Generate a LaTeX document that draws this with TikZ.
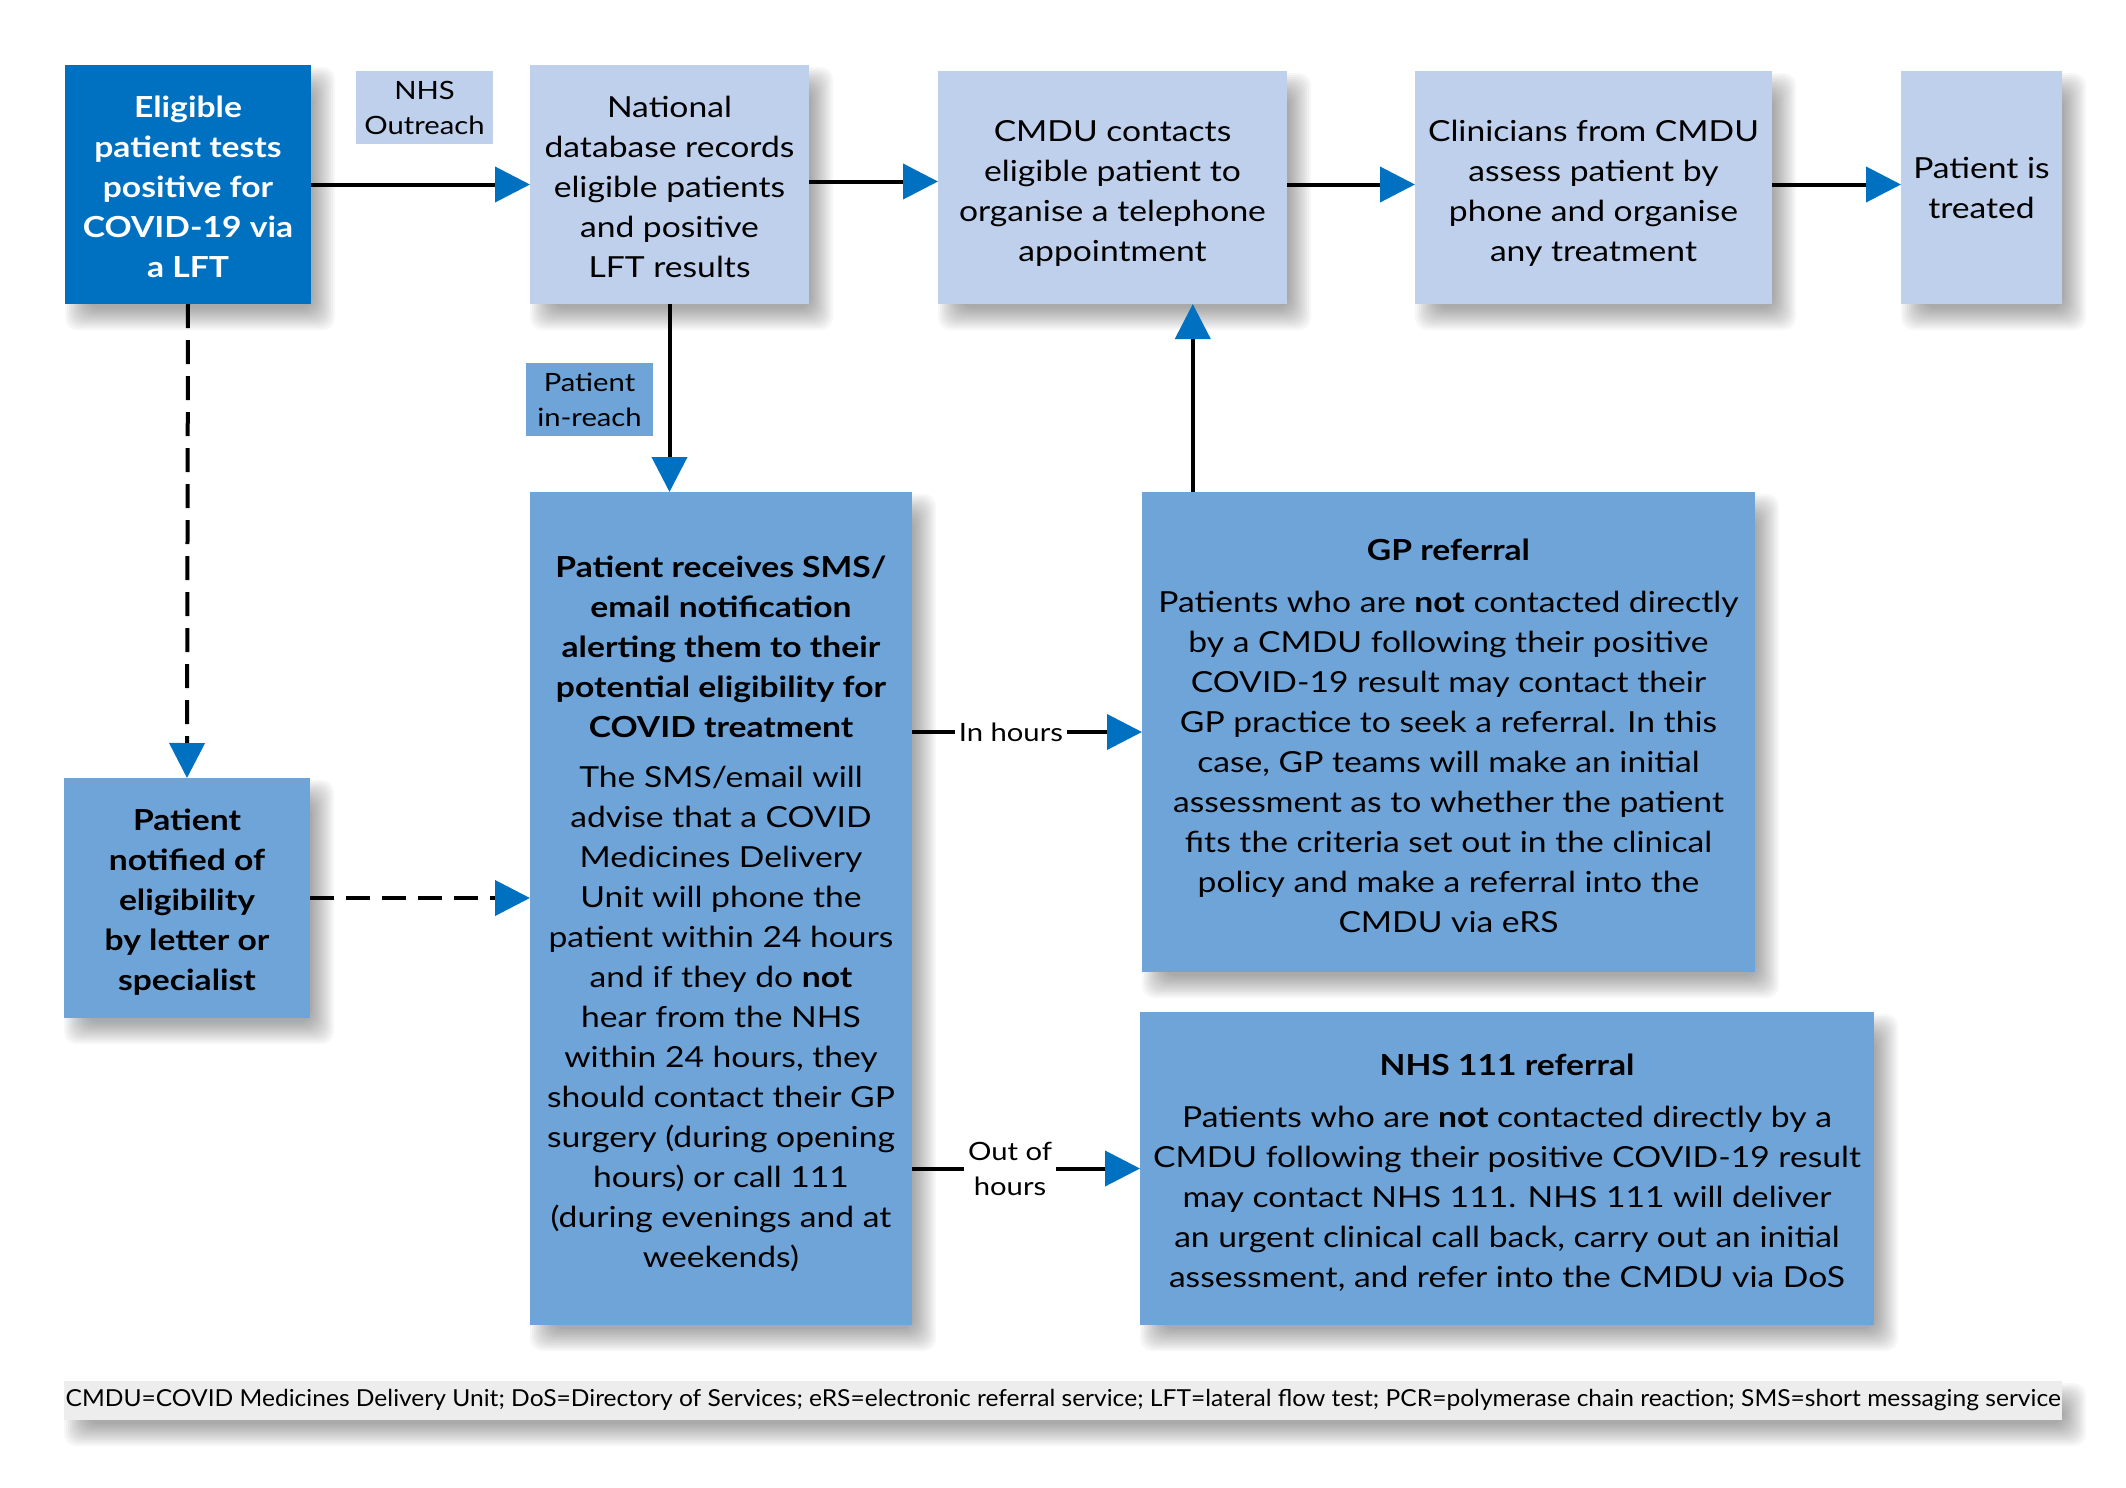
\documentclass[tikz,border=0pt]{standalone}
\usepackage{fontspec}
\setmainfont{Lato}[FakeStretch=1.16]
\newfontfamily\footfont{Lato}[FakeStretch=1.05]
\usetikzlibrary{arrows.meta,calc,backgrounds}
\definecolor{dkblue}{RGB}{0,112,192}
\definecolor{ltblue}{RGB}{190,208,236}
\definecolor{mdblue}{RGB}{111,164,216}
\definecolor{ftgrey}{RGB}{237,237,237}
\newcommand{\softshadow}[1]{%
  \foreach \e in {-10,-8,...,12} {%
    \fill[black, opacity=0.03, rounded corners=6pt]
      ($(#1.north west)+({12-(\e)},{14-(\e)})$) rectangle ($(#1.south east)+({12+(\e)},{14+(\e)})$);
  }}
\begin{document}
\begin{tikzpicture}[x=0.5pt,y=-0.5pt,
  base/.style={inner sep=0pt, outer sep=0pt, align=center},
  box/.style={base, font=\fontsize{14.5}{20}\selectfont},
  darkbox/.style={box, fill=dkblue, text=white, font=\fontsize{14.5}{20}\selectfont\bfseries},
  lightbox/.style={box, fill=ltblue},
  midbox/.style={box, fill=mdblue},
  tag/.style={base, font=\fontsize{12.6}{17.5}\selectfont},
  lab/.style={base, fill=white, inner xsep=2pt, font=\fontsize{12.6}{17.5}\selectfont},
  arr/.style={draw=black, line width=2pt, -{Triangle[length=17.5pt,width=17.5pt,color=dkblue]}},
  dasharr/.style={arr, dash pattern=on 12pt off 6pt}
]
\useasboundingbox (0,0) rectangle (2126,1488);

% top row
\node[darkbox, minimum width=123pt, minimum height=119.5pt] (b1) at (188,184.5)
  {\rule{0pt}{13.5pt}Eligible\\patient tests\\positive for\\COVID-19 via\\a LFT};
\node[tag, fill=ltblue, minimum width=68.5pt, minimum height=36.5pt] (outreach) at (424.5,107.5)
  {NHS\\Outreach};
\node[lightbox, minimum width=139.5pt, minimum height=119.5pt] (b2) at (669.5,184.5)
  {\rule{0pt}{13.5pt}National\\database records\\eligible patients\\and positive\\LFT results};
\node[lightbox, minimum width=174.5pt, minimum height=116.5pt] (b3) at (1112.5,187.5)
  {\rule{0pt}{16pt}CMDU contacts\\eligible patient to\\organise a telephone\\appointment};
\node[lightbox, minimum width=178.5pt, minimum height=116.5pt] (b4) at (1593.5,187.5)
  {\rule{0pt}{16pt}Clinicians from CMDU\\assess patient by\\phone and organise\\any treatment};
\node[lightbox, minimum width=80.5pt, minimum height=116.5pt] (b5) at (1981.5,187.5)
  {Patient is\\treated};

% middle
\node[tag, fill=mdblue, minimum width=63.5pt, minimum height=36.5pt] (inreach) at (589.5,399.5)
  {Patient\\in-reach};
\node[midbox, font=\fontsize{14.5}{20}\selectfont\bfseries, minimum width=123pt, minimum height=120pt] (b6) at (187,898)
  {\rule{0pt}{15pt}Patient\\notified of\\eligibility\\by letter or\\specialist};
\node[midbox, minimum width=191pt, minimum height=416.5pt] (sms) at (721,908.5)
  {\rule{0pt}{16pt}\textbf{Patient receives SMS/}\\\textbf{email notification}\\\textbf{alerting them to their}\\\textbf{potential eligibility for}\\\textbf{COVID treatment}\\[5pt]
   The SMS/email will\\advise that a COVID\\Medicines Delivery\\Unit will phone the\\patient within 24 hours\\and if they do \textbf{not}\\hear from the NHS\\within 24 hours, they\\should contact their GP\\surgery (during opening\\hours) or call 111\\(during evenings and at\\weekends)};
\node[midbox, minimum width=306.5pt, minimum height=240pt] (gp) at (1448.5,732)
  {\rule{0pt}{15pt}\textbf{GP referral}\\[6pt]
   Patients who are \textbf{not} contacted directly\\by a CMDU following their positive\\COVID-19 result may contact their\\GP practice to seek a referral. In this\\case, GP teams will make an initial\\assessment as to whether the patient\\fits the criteria set out in the clinical\\policy and make a referral into the\\CMDU via eRS};
\node[midbox, minimum width=367pt, minimum height=156.5pt] (nhs) at (1507,1168.5)
  {\rule{0pt}{15pt}\textbf{NHS 111 referral}\\[6pt]
   Patients who are \textbf{not} contacted directly by a\\CMDU following their positive COVID-19 result\\may contact NHS 111. NHS 111 will deliver\\an urgent clinical call back, carry out an initial\\assessment, and refer into the CMDU via DoS};

% footer
\node[base, fill=ftgrey, font=\footfont\fontsize{11.7}{14}\selectfont, minimum width=999pt, minimum height=19.5pt] (foot) at (1063,1400.5)
  {CMDU=COVID Medicines Delivery Unit; DoS=Directory of Services; eRS=electronic referral service; LFT=lateral flow test; PCR=polymerase chain reaction; SMS=short messaging service};

% soft shadows
\begin{scope}[on background layer]
  \fill[white] (0,0) rectangle (2126,1488);
  \softshadow{b1}\softshadow{b2}\softshadow{b3}\softshadow{b4}\softshadow{b5}
  \softshadow{b6}\softshadow{sms}\softshadow{gp}\softshadow{nhs}\softshadow{foot}
\end{scope}

% connectors
\draw[arr] (b1.east) -- (b2.west);
\draw[arr] ([yshift=1.5pt]b2.east) -- ([yshift=1.5pt]b2.east -| b3.west);
\draw[arr] ([yshift=1.5pt]b3.east) -- ([yshift=1.5pt]b3.east -| b4.west);
\draw[arr] ([yshift=1.5pt]b4.east) -- ([yshift=1.5pt]b4.east -| b5.west);
\draw[arr] (b2.south) -- (b2.south |- sms.north);
\coordinate (g3) at ($(b3.south west)!0.73!(b3.south east)$);
\draw[arr] (g3 |- gp.north) -- (g3);
\draw[dasharr] (b1.south) -- (b6.north);
\draw[dasharr] (b6.east) -- (b6.east -| sms.west);
\draw[arr] (sms.east |- gp.west) -- node[lab, pos=0.43]{In hours} (gp.west);
\draw[arr] (sms.east |- nhs.west) -- node[lab, pos=0.43]{Out of\\hours} (nhs.west);
\end{tikzpicture}
\end{document}
